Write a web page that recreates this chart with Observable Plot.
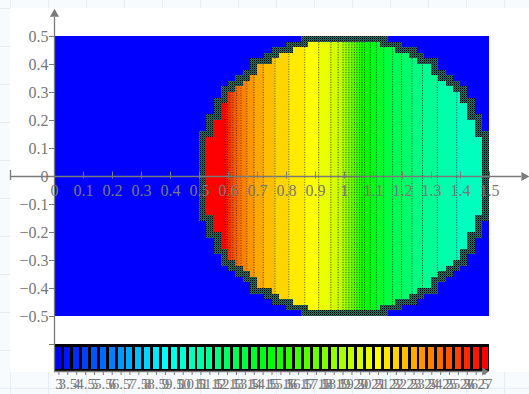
<!DOCTYPE html>
<html><head><meta charset="utf-8">
<script src="https://cdn.jsdelivr.net/npm/d3@7"></script>
<script src="https://cdn.jsdelivr.net/npm/@observablehq/plot@0.6"></script>
<style>
html,body{margin:0;padding:0;background:#fff;}
#wrap{position:relative;width:529px;height:394px;overflow:hidden;
 background-color:#f8fbfd;
 background-image:linear-gradient(to right,#e4edf6 1px,transparent 1px),linear-gradient(to bottom,#e4edf6 1px,transparent 1px);
 background-size:38px 38px;background-position:10px 8px;}
#panel{position:absolute;left:10px;top:8px;width:519px;height:364px;background:#fff;}
#chart{position:absolute;left:0;top:0;}
</style></head><body>
<div id="wrap"><div id="panel"></div><div id="chart"></div></div>
<script>
// ---- data ----
const xDomain = [0, 1.5];
const yDomain = [-0.5, 0.5];
const backgroundValue = 3;
const xTicks = [0, 0.1, 0.2, 0.3, 0.4, 0.5, 0.6, 0.7, 0.8, 0.9, 1, 1.1, 1.2, 1.3, 1.4, 1.5];
const xTickLabels = ["0", "0.1", "0.2", "0.3", "0.4", "0.5", "0.6", "0.7", "0.8", "0.9", "1", "1.1", "1.2", "1.3", "1.4", "1.5"];
const yTicks = [0.5, 0.4, 0.3, 0.2, 0.1, 0, -0.1, -0.2, -0.3, -0.4, -0.5];
const yTickLabels = ["0.5", "0.4", "0.3", "0.2", "0.1", "0", "\u22120.1", "\u22120.2", "\u22120.3", "\u22120.4", "\u22120.5"];
// colour bands inside the disk: start x of each band and its level
const bandStart = [0.5, 0.589, 0.596, 0.605, 0.615, 0.628, 0.643, 0.663, 0.688, 0.72, 0.76, 0.808, 0.863, 0.911, 0.953, 0.978, 0.995, 1.005, 1.015, 1.025, 1.034, 1.043, 1.052, 1.06, 1.069, 1.089, 1.11, 1.135, 1.166, 1.197, 1.233, 1.269, 1.32, 1.387];
const bandValue = [27, 26.5, 26, 25.5, 25, 24.5, 24, 23.5, 23, 22.5, 22, 21.5, 21, 20.5, 20, 19.5, 19, 18.5, 18, 17.5, 17, 16.5, 16, 15.5, 15, 14.5, 14, 13.5, 13, 12.5, 12, 11.5, 11, 10.5];
const diskCenter = [1, 0];
const diskRadius = 0.5;
const cellStepX = 0.025;
const cellStepY = 0.02;
// colour bar levels and labels
const colorbarValues = [3, 3.5, 4, 4.5, 5, 5.5, 6, 6.5, 7, 7.5, 8, 8.5, 9, 9.5, 10, 10.5, 11, 11.5, 12, 12.5, 13, 13.5, 14, 14.5, 15, 15.5, 16, 16.5, 17, 17.5, 18, 18.5, 19, 19.5, 20, 20.5, 21, 21.5, 22, 22.5, 23, 23.5, 24, 24.5, 25, 25.5, 26, 26.5, 27];
const colorbarLabels = ["3", "3.5", "4", "4.5", "5", "5.5", "6", "6.5", "7", "7.5", "8", "8.5", "9", "9.5", "10", "10.5", "11", "11.5", "12", "12.5", "13", "13.5", "14", "14.5", "15", "15.5", "16", "16.5", "17", "17.5", "18", "18.5", "19", "19.5", "20", "20.5", "21", "21.5", "22", "22.5", "23", "23.5", "24", "24.5", "25", "25.5", "26", "26.5", "27"];

// ---- layout ----
const W = 529, H = 394;
const xRange = [54, 489], yRange = [316, 36];
const sx = d3.scaleLinear(xDomain, xRange);
const sy = d3.scaleLinear(yDomain, yRange);
const axisColor = "#7a7a7a";
const labelColor = "#787878";
const fontFamily = "'Liberation Serif', 'Times New Roman', serif";

// disk mask (from centre/radius) on the sampling grid
const nCols = Math.round(2 * diskRadius / cellStepX);
const diskX0 = diskCenter[0] - diskRadius;
const colH = [];
for (let i = 0; i < nCols; i++) {
  const a = diskX0 + i * cellStepX, b = a + cellStepX;
  const dn = Math.max(0, diskCenter[0] - b, a - diskCenter[0]);
  const h = Math.sqrt(Math.max(0, diskRadius * diskRadius - dn * dn));
  colH.push(Math.min(diskRadius, (Math.floor(h / cellStepY + 1e-9) + 1) * cellStepY));
}
const bandEnd = bandStart.map((s, j) => j + 1 < bandStart.length ? bandStart[j + 1] : xDomain[1]);
const pieces = [], edges = [], dots = [];
for (let i = 0; i < nCols; i++) {
  const a = diskX0 + i * cellStepX, b = a + cellStepX, h = colH[i];
  for (let j = 0; j < bandStart.length; j++) {
    const lo = Math.max(a, bandStart[j]), hi = Math.min(b, bandEnd[j]);
    if (hi > lo + 1e-9) pieces.push({x1: lo, x2: hi, y1: -h, y2: h, v: bandValue[j]});
  }
  const hn = Math.min(h, i > 0 ? colH[i - 1] : 0, i < nCols - 1 ? colH[i + 1] : 0);
  const low = hn - cellStepY;
  edges.push({x1: a, x2: b, y1: low, y2: h});
  edges.push({x1: a, x2: b, y1: -h, y2: -low});
}
for (let j = 1; j < bandStart.length; j++) {
  const i = Math.min(nCols - 1, Math.floor((bandStart[j] - diskX0) / cellStepX));
  const h = colH[i] - cellStepY;
  dots.push({x: bandStart[j], y1: -h, y2: h});
}
const background = [{x1: xDomain[0], x2: xDomain[1], y1: yDomain[0], y2: yDomain[1], v: backgroundValue}];

// colour bar
const cbTop = sy.invert(344), cbBot = sy.invert(371);
const cw = (xDomain[1] - xDomain[0]) / colorbarValues.length;
const cbCells = colorbarValues.map((v, i) => ({x1: xDomain[0] + i * cw, x2: xDomain[0] + (i + 1) * cw, xc: xDomain[0] + (i + 0.5) * cw, v, label: colorbarLabels[i]}));

const textOpts = {fill: labelColor, fontFamily, fontSize: 16};

const chart = Plot.plot({
  width: W, height: H,
  marginTop: 0, marginRight: 0, marginBottom: 0, marginLeft: 0,
  style: {background: "transparent", fontFamily},
  x: {domain: xDomain, range: xRange, axis: null},
  y: {domain: yDomain, range: yRange, axis: null},
  color: {type: "linear", domain: [3, 27], interpolate: t => d3.hsl(240 * (1 - t), 1, 0.5).formatRgb()},
  marks: [
    Plot.rect(background, {x1: "x1", x2: "x2", y1: "y1", y2: "y2", fill: "v"}),
    Plot.rect(pieces, {x1: "x1", x2: "x2", y1: "y1", y2: "y2", fill: "v", shapeRendering: "crispEdges"}),
    Plot.ruleX(dots, {x: "x", y1: "y1", y2: "y2", stroke: "#000", strokeWidth: 1, strokeDasharray: "1,1.5", strokeOpacity: 0.7}),
    Plot.rect(edges, {x1: "x1", x2: "x2", y1: "y1", y2: "y2", fill: "url(#edgePat)", shapeRendering: "crispEdges"}),
    // colour bar
    Plot.rect([{}], {x1: xDomain[0], x2: xDomain[1], y1: cbBot, y2: cbTop, fill: "#000"}),
    Plot.rect(cbCells, {x1: "x1", x2: "x2", y1: cbBot, y2: cbTop, fill: "v", insetLeft: 1.4, insetRight: 1.4, insetTop: 2.5, insetBottom: 2, shapeRendering: "crispEdges"}),
    Plot.ruleY([cbBot], {x1: xDomain[0], x2: sx.invert(482), stroke: axisColor, strokeWidth: 1.3}),
    Plot.dot([0], {x: sx.invert(484), y: cbBot, symbol: "triangle", r: 3, rotate: 90, fill: axisColor, stroke: "none"}),
    Plot.ruleX(cbCells, {x: "xc", y1: cbBot, y2: sy.invert(375), stroke: axisColor, strokeWidth: 1}),
    Plot.text(cbCells, {x: "xc", y: cbBot, dy: 13, text: "label", ...textOpts, fontSize: 15}),
    // x axis
    Plot.ruleY([0], {x1: sx.invert(10), x2: sx.invert(521), stroke: axisColor, strokeWidth: 1.3}),
    Plot.ruleX([sx.invert(10)], {y1: sy.invert(180), y2: sy.invert(170), stroke: axisColor, strokeWidth: 1.3}),
    Plot.ruleX(xTicks, {x: d => d, y1: sy.invert(178.5), y2: sy.invert(171.5), stroke: axisColor, strokeWidth: 1}),
    Plot.dot([0], {x: sx.invert(523.5), y: 0, symbol: "triangle", r: 3.4, rotate: 90, fill: axisColor, stroke: "none"}),
    Plot.text(xTicks, {x: d => d, y: 0, dy: 14, text: (d, i) => xTickLabels[i], ...textOpts}),
    // y axis
    Plot.ruleX([0], {y1: sy.invert(372), y2: sy.invert(17), stroke: axisColor, strokeWidth: 1.3}),
    Plot.dot([0], {x: 0, y: sy.invert(13.5), symbol: "triangle", r: 3.4, fill: axisColor, stroke: "none"}),
    Plot.ruleY(yTicks.concat([cbTop]), {y: d => d, x1: sx.invert(49), x2: 0, stroke: axisColor, strokeWidth: 1}),
    Plot.text(yTicks, {x: 0, y: d => d, dx: -6, textAnchor: "end", text: (d, i) => yTickLabels[i], ...textOpts})
  ]
});

// checkered dark pattern used for the disk border cells
const ns = "http://www.w3.org/2000/svg";
const defs = document.createElementNS(ns, "defs");
const pat = document.createElementNS(ns, "pattern");
pat.setAttribute("id", "edgePat");
pat.setAttribute("width", "2"); pat.setAttribute("height", "2");
pat.setAttribute("patternUnits", "userSpaceOnUse");
[["0", "0", "2", "2", "#2f7060"], ["0", "0", "1", "1", "#000"], ["1", "1", "1", "1", "#15407a"]].forEach(([x, y, w, h, f]) => {
  const r = document.createElementNS(ns, "rect");
  r.setAttribute("x", x); r.setAttribute("y", y); r.setAttribute("width", w); r.setAttribute("height", h); r.setAttribute("fill", f);
  pat.appendChild(r);
});
defs.appendChild(pat);
chart.insertBefore(defs, chart.firstChild);
document.getElementById("chart").appendChild(chart);
</script>
</body></html>
